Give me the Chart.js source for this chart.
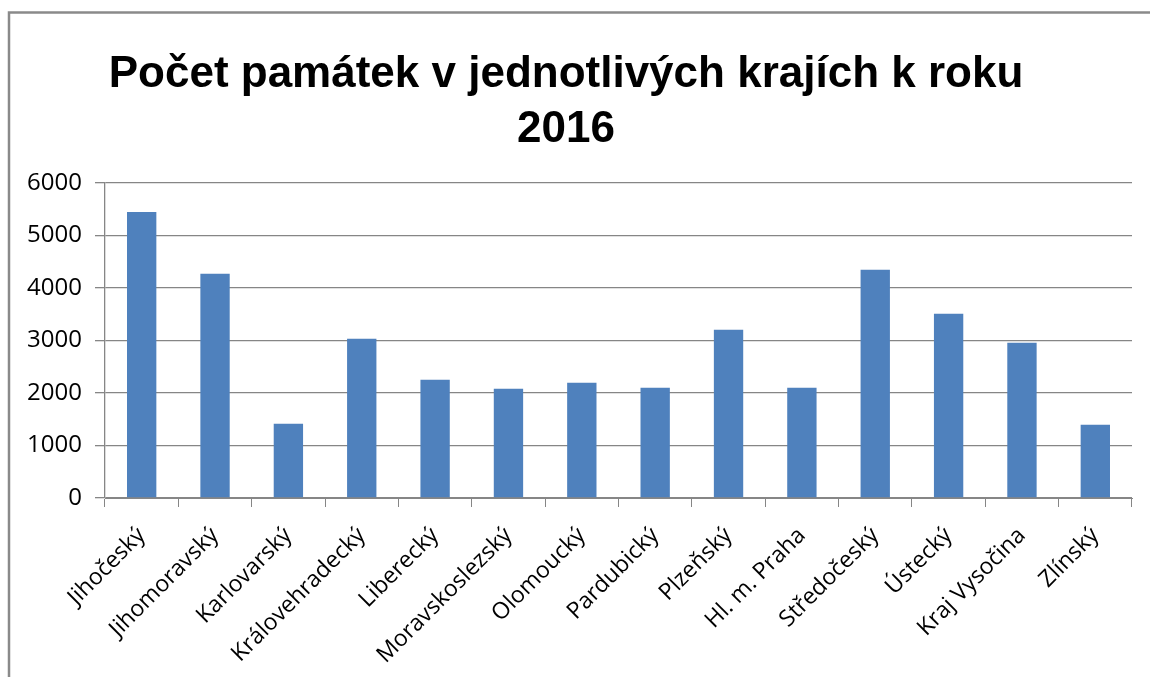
<!DOCTYPE html>
<html>
<head>
<meta charset="utf-8">
<script src="https://cdn.jsdelivr.net/npm/chart.js@4"></script>
<style>
	body { margin: 0; background: #fff; }
	#wrap { width: 1150px; height: 677px; }
</style>
</head>
<body>
<div id="wrap"><canvas id="chart"></canvas></div>
<script>
const titleLines = ["Počet památek v jednotlivých krajích k roku", "2016"];
const regions = ["Jihočeský", "Jihomoravský", "Karlovarský", "Královehradecký", "Liberecký",
	"Moravskoslezský", "Olomoucký", "Pardubický", "Plzeňský", "Hl. m. Praha",
	"Středočeský", "Ústecký", "Kraj Vysočina", "Zlínský"];
const monuments = [5450, 4275, 1415, 3035, 2255, 2080, 2195, 2100, 3205, 2100, 4350, 3510, 2960, 1395];
const yTicks = [0, 1000, 2000, 3000, 4000, 5000, 6000];

const GREY = "#868686";
const fontFamily = "'Open Sans', 'Noto Sans', sans-serif";

// frame round the chart, like the spreadsheet chart object border
const framePlugin = {
	id: "frame",
	beforeDraw(chart){
		const ctx = chart.ctx;
		ctx.save();
		ctx.strokeStyle = "#8a8a8a";
		ctx.lineWidth = 2.5;
		ctx.beginPath();
		ctx.moveTo(9, 677);
		ctx.lineTo(9, 12.5);
		ctx.lineTo(1150, 12.5);
		ctx.stroke();
		ctx.restore();
	}
};

new Chart(document.querySelector("#chart"), {
	type: "bar",
	data: {
		labels: regions,
		datasets: [{
			data: monuments,
			backgroundColor: "#4F81BD",
			barPercentage: 1,
			categoryPercentage: 0.4,
		}],
	},
	options: {
		responsive: true,
		maintainAspectRatio: false,
		animation: false,
		layout: { padding: { left: 0, right: 18, top: 0, bottom: 0 } },
		plugins: {
			legend: { display: false },
			tooltip: { enabled: false },
			title: {
				display: true,
				text: titleLines,
				color: "#000",
				font: { family: "'Liberation Sans', sans-serif", size: 44, weight: "bold", lineHeight: 1.24 },
				padding: { top: 48, bottom: 26 },
			},
		},
		scales: {
			x: {
				grid: { display: true, drawOnChartArea: false, drawTicks: true, tickLength: 9, color: GREY, offset: true },
				border: { display: true, color: GREY, width: 1 },
				ticks: { color: "#000", font: { family: fontFamily, size: 23 }, minRotation: 45, maxRotation: 45, padding: 15 },
				afterFit(scale){ scale.height = 179; },
			},
			y: {
				min: 0,
				max: 6000,
				afterBuildTicks(scale){ scale.ticks = yTicks.map(v => ({ value: v })); },
				grid: { color: GREY, lineWidth: 1.3, tickLength: 10 },
				border: { display: true, color: GREY, width: 1.3 },
				ticks: { color: "#000", font: { family: fontFamily, size: 24 }, padding: 13, callback: v => String(v) },
				afterFit(scale){ scale.width = 105; },
			},
		},
	},
	plugins: [framePlugin],
});
</script>
</body>
</html>
